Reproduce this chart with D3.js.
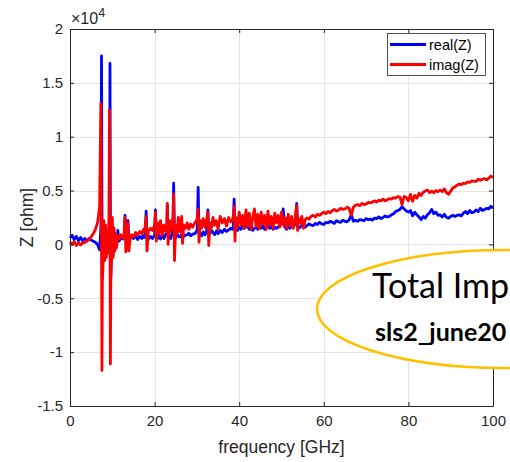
<!DOCTYPE html>
<html>
<head>
<meta charset="utf-8">
<script src="https://cdn.jsdelivr.net/npm/d3@7"></script>
<style>
  body { margin: 0; background: #fff; }
  svg { display: block; }
</style>
</head>
<body>
<script>
// Impedance spectrum, frequency in GHz, impedance in ohm
const freqGHz = [
  0, 0.5, 1, 1.5, 2, 2.5, 3, 3.5, 4, 4.5, 5, 5.5, 6, 6.5,
  7.0, 7.3, 7.45, 7.55, 7.65, 7.8, 8.0, 8.2, 8.4, 8.6, 8.8, 9.0, 9.2,
  9.35, 9.45, 9.55, 9.65, 9.8, 10.0, 10.2, 10.4, 10.6, 10.8, 11.0, 11.3, 11.6, 12.0, 12.5,
  12.8, 13.0, 13.2, 13.4, 13.7, 13.9, 14.2, 14.6, 15.0, 15.5, 16.0, 16.5, 17.0, 17.4, 17.6, 17.8,
  18.0, 18.2, 18.5, 19.0, 19.5, 20.0, 20.2, 20.4, 20.7, 21.0, 21.4, 21.8, 22.2, 22.6, 22.9,
  23.0, 23.2, 23.5, 23.8, 24.1, 24.35, 24.5, 24.7, 25.0, 25.3, 25.6, 26.0, 26.4, 26.6, 26.9, 27.3, 27.7, 28.1, 28.5, 29.0, 29.5, 29.9,
  30.1, 30.3, 30.5, 30.8, 31.1, 31.5, 31.9, 32.3, 32.6, 32.8, 33.1, 33.5, 33.8, 34.2, 34.6, 35.0, 35.5, 36.0, 36.5, 37.0, 37.5, 38.0, 38.4,
  38.6, 38.8, 39.0, 39.2, 39.6, 40.0, 40.4, 40.8, 41.2, 41.6, 42.0, 42.4, 42.8, 43.2, 43.6, 44.0, 44.4, 44.8, 45.2, 45.6, 46.0, 46.4, 46.8, 47.2, 47.6, 48.0, 48.4, 48.8,
  49.2, 49.6, 50.0, 50.4, 50.8, 51.2, 51.6, 52.0, 52.4, 52.8, 53.2, 53.6, 53.8, 54.0, 54.4, 54.8, 55.2, 55.6,
  56, 56.5, 57, 57.5, 58, 58.5, 59, 59.5, 60, 60.5,
  61, 61.5, 62, 62.5, 63, 63.5, 64, 64.5, 65, 65.5,
  66, 66.5, 67, 67.5, 68, 68.5, 69, 69.5, 70, 70.5,
  71, 71.5, 72, 72.5, 73, 73.5, 74, 74.5, 75, 75.5,
  76, 76.5, 77, 77.5, 78, 78.5, 79, 79.5, 80, 80.5,
  81, 81.5, 82, 82.5, 83, 83.5, 84, 84.5, 85, 85.5,
  86, 86.5, 87, 87.5, 88, 88.5, 89, 89.5, 90, 90.5,
  91, 91.5, 92, 92.5, 93, 93.5, 94, 94.5, 95, 95.5,
  96, 96.5, 97, 97.5, 98, 98.5, 99, 99.5, 100
];

const realZ = [
  600, 850, 450, 750, 350, 650, 350, 550, 350, 550, 400, 300, 200, 0,
  -500, 1500, 17500, 4000, -3100, -800, 1000, -1200, 700, -900, 800, -600, 300,
  1500, 16800, 3000, -3100, -700, 800, -1000, 600, -500, 400, -200, 1300, 300, 600, 500,
  700, 2700, 800, 500, 2200, 700, 500, 850, 550, 800, 450, 750, 550, 850, 650, 1000,
  3100, 600, 450, 750, 550, 850, 3200, 800, 550, 950, 500, 850, 550, 950, 1000,
  3700, 700, 850, 550, 950, 1500, 5700, 800, 650, 1050, 750, 700, 950, 1200, 750, 850, 900, 1050, 800, 950, 1000, 1200,
  1500, 5300, 900, 1050, 800, 1150, 900, 1200, 3200, 900, 1050, 1300, 1100, 900, 1250, 1000, 1300, 1100, 1400, 1200, 1350, 1500, 1400,
  1600, 4200, 1500, 1400, 1300, 1600, 1400, 1700, 1500, 1800, 1600, 1400, 1700, 1300, 1500, 1600, 1400, 1700, 1500, 1800, 1400, 1600, 1900, 1500, 1700, 1400, 1600, 1500,
  1600, 1800, 2000, 3300, 1600, 1400, 1700, 1500, 1800, 1600, 1900, 3800, 1700, 1500, 1600, 1800, 1700, 1600,
  1750, 1900, 1800, 1750, 1950, 1850, 2050, 1900, 1850, 2050,
  2000, 2150, 2050, 1950, 2200, 2100, 2050, 2250, 2150, 2100,
  2300, 2750, 2150, 2250, 2150, 2300, 2250, 2200, 2400, 2300,
  2350, 2250, 2450, 2400, 2550, 2400, 2500, 2650, 2550, 2600,
  2750, 2850, 3050, 3150, 3250, 3500, 3300, 3100, 3000, 3150,
  2650, 3000, 2750, 2550, 2300, 2600, 2450, 2750, 2950, 3250,
  2850, 3000, 2700, 2750, 2550, 2800, 2500, 2450, 2600, 2700,
  2600, 2700, 2750, 2650, 2900, 3050, 2850, 3150, 2950, 3000,
  3200, 3050, 3350, 3150, 3250, 3350, 3300, 3550, 3350
];

const imagZ = [
  200, 0, 250, -100, 150, -50, 150, 200, 300, 500, 700, 1000, 1400, 2000,
  3500, 13100, 2000, -11700, -3500, -2000, 2200, -1500, 1800, -1200, 1400, -800, 2500,
  12500, 2000, -11100, -3000, -1500, 2500, -1200, 1500, -600, 1000, -300, 800, 500, 900, 600,
  1000, 2500, -700, 400, 2000, -600, 500, 900, 700, 1100, 900, 1200, 1000, 1400, 1200, 1800,
  2600, -600, 1200, 1500, 1300, 1800, 3000, 300, 2000, 1000, 2200, 800, 1800, 1200, 2000,
  3800, 0, 2200, 1200, 2000, 2500, 4700, -1500, 1800, 1000, 2500, 1200, 2600, 100, 1800, 1500, 2000, 1400, 1900, 1600, 2000, 2200,
  2500, 3300, 200, 2200, 1500, 2400, 1600, 2300, 3000, -100, 2000, 1600, 2500, 1800, 2200, 1400, 2600, 2000, 2400, 1700, 2500, 2100, 2300,
  2600, 3500, 300, 2500, 1600, 3000, 1800, 2700, 1500, 3200, 1700, 2900, 1400, 2500, 3300, 1600, 2800, 1500, 3000, 1900, 2700, 1400, 3100, 1800, 2600, 1500, 2900, 2000,
  2700, 1600, 3000, 1800, 2500, 1500, 2800, 1700, 2600, 1500, 2300, 3600, 1300, 2400, 2000, 2600, 1500, 2300,
  2450, 2350, 2600, 2700, 2550, 2800, 2700, 2850, 3000, 2850,
  3050, 2950, 3150, 3250, 3100, 3200, 3350, 3250, 3300, 3450,
  3350, 2700, 3450, 3650, 3700, 3600, 3800, 3700, 3750, 3900,
  3850, 3950, 4050, 3950, 4100, 4050, 4200, 4050, 4150, 4250,
  4200, 4350, 4300, 4450, 4400, 3700, 4450, 4350, 4050, 4650,
  4000, 4550, 4300, 4750, 4550, 4850, 4950, 5050, 4800, 4950,
  4800, 5000, 4900, 5050, 4900, 5150, 4800, 4650, 4950, 5250,
  5350, 5500, 5600, 5550, 5700, 5650, 5800, 5750, 5900, 5850,
  5850, 6050, 5950, 6050, 6100, 6000, 6150, 6350, 6200
];

const xTicks = [0, 20, 40, 60, 80, 100];
const yTicks = [-15000, -10000, -5000, 0, 5000, 10000, 15000, 20000];
const yTickLabels = ["-1.5", "-1", "-0.5", "0", "0.5", "1", "1.5", "2"];
const seriesNames = ["real(Z)", "imag(Z)"];
const seriesColors = ["#0000ff", "#ff0000"];
const calloutLines = ["Total Imp", "sls2_june20"];

const W = 510, H = 462;
const plot = { left: 70, right: 493, top: 29, bottom: 406 };
const axisColor = "#262626";
const tickFont = "'Liberation Sans', Arial, sans-serif";

const svg = d3.select("body").append("svg")
  .attr("width", W).attr("height", H)
  .style("font-family", tickFont);

const x = d3.scaleLinear().domain([0, 100]).range([plot.left, plot.right]);
const y = d3.scaleLinear().domain([-15000, 20000]).range([plot.bottom, plot.top]);

// grid
const grid = svg.append("g").attr("stroke", "#e3e3e3").attr("stroke-width", 1);
grid.selectAll("line.gx").data(xTicks.slice(1, -1)).join("line")
  .attr("x1", d => Math.round(x(d)) + 0.5).attr("x2", d => Math.round(x(d)) + 0.5)
  .attr("y1", plot.top).attr("y2", plot.bottom);
grid.selectAll("line.gy").data(yTicks.slice(1, -1)).join("line")
  .attr("y1", d => Math.round(y(d)) + 0.5).attr("y2", d => Math.round(y(d)) + 0.5)
  .attr("x1", plot.left).attr("x2", plot.right);

// series
const line = d3.line().x(d => x(d[0])).y(d => y(d[1]));
[realZ, imagZ].forEach((vals, i) => {
  svg.append("path")
    .datum(freqGHz.map((f, k) => [f, vals[k]]))
    .attr("fill", "none")
    .attr("stroke", seriesColors[i])
    .attr("stroke-width", 2.8)
    .attr("stroke-linejoin", "round")
    .attr("d", line);
});

// axes (box with inward ticks)
function styleAxis(g) {
  g.select(".domain").attr("stroke", axisColor);
  g.selectAll(".tick line").attr("stroke", axisColor);
  g.selectAll(".tick text").attr("fill", axisColor).style("font-size", "15px");
}
svg.append("g").attr("transform", `translate(0,${plot.bottom})`)
  .call(d3.axisBottom(x).tickValues(xTicks).tickSizeInner(-4).tickSizeOuter(0).tickPadding(9))
  .call(styleAxis);
svg.append("g").attr("transform", `translate(0,${plot.top})`)
  .call(d3.axisTop(x).tickValues(xTicks).tickSizeInner(-4).tickSizeOuter(0).tickFormat(""))
  .call(styleAxis);
svg.append("g").attr("transform", `translate(${plot.left},0)`)
  .call(d3.axisLeft(y).tickValues(yTicks).tickSizeInner(-4).tickSizeOuter(0).tickPadding(7)
    .tickFormat((d, i) => yTickLabels[i]))
  .call(styleAxis);
svg.append("g").attr("transform", `translate(${plot.right},0)`)
  .call(d3.axisRight(y).tickValues(yTicks).tickSizeInner(-4).tickSizeOuter(0).tickFormat(""))
  .call(styleAxis);
svg.selectAll(".domain").attr("stroke-width", 1);

// exponent label
const expo = svg.append("text").attr("x", 71).attr("y", 24)
  .attr("fill", axisColor).style("font-size", "16px");
expo.append("tspan").text("\u00d710");
expo.append("tspan").attr("dy", -7).style("font-size", "12.5px").text("4");

// axis titles
svg.append("text")
  .attr("x", (plot.left + plot.right) / 2).attr("y", 453)
  .attr("text-anchor", "middle").attr("fill", axisColor)
  .style("font-size", "17.5px").text("frequency [GHz]");
svg.append("text")
  .attr("transform", `translate(33,${(plot.top + plot.bottom) / 2}) rotate(-90)`)
  .attr("text-anchor", "middle").attr("fill", axisColor)
  .style("font-size", "17.5px").text("Z [ohm]");

// legend
const lg = svg.append("g");
lg.append("rect").attr("x", 387.5).attr("y", 33.5).attr("width", 98).attr("height", 42)
  .attr("fill", "#fff").attr("stroke", axisColor).attr("stroke-width", 0.8);
seriesNames.forEach((name, i) => {
  const yy = 44.5 + i * 20;
  lg.append("line").attr("x1", 390).attr("x2", 426).attr("y1", yy).attr("y2", yy)
    .attr("stroke", seriesColors[i]).attr("stroke-width", 2.8);
  lg.append("text").attr("x", 429).attr("y", yy + 5.5).attr("fill", "#000")
    .style("font-size", "14.5px").text(name);
});

// callout
const co = svg.append("g");
co.append("ellipse").attr("cx", 505).attr("cy", 309).attr("rx", 188).attr("ry", 59)
  .attr("fill", "#fff").attr("stroke", "#ffc000").attr("stroke-width", 2.5);
co.append("text").attr("x", 372).attr("y", 298)
  .style("font-family", "Lato, 'Open Sans', sans-serif").style("font-size", "34px")
  .attr("fill", "#000").text(calloutLines[0]);
co.append("text").attr("x", 375).attr("y", 341)
  .style("font-family", "Lato, 'Open Sans', sans-serif").style("font-size", "25px")
  .style("font-weight", "bold").attr("fill", "#000").text(calloutLines[1]);
</script>
</body>
</html>
